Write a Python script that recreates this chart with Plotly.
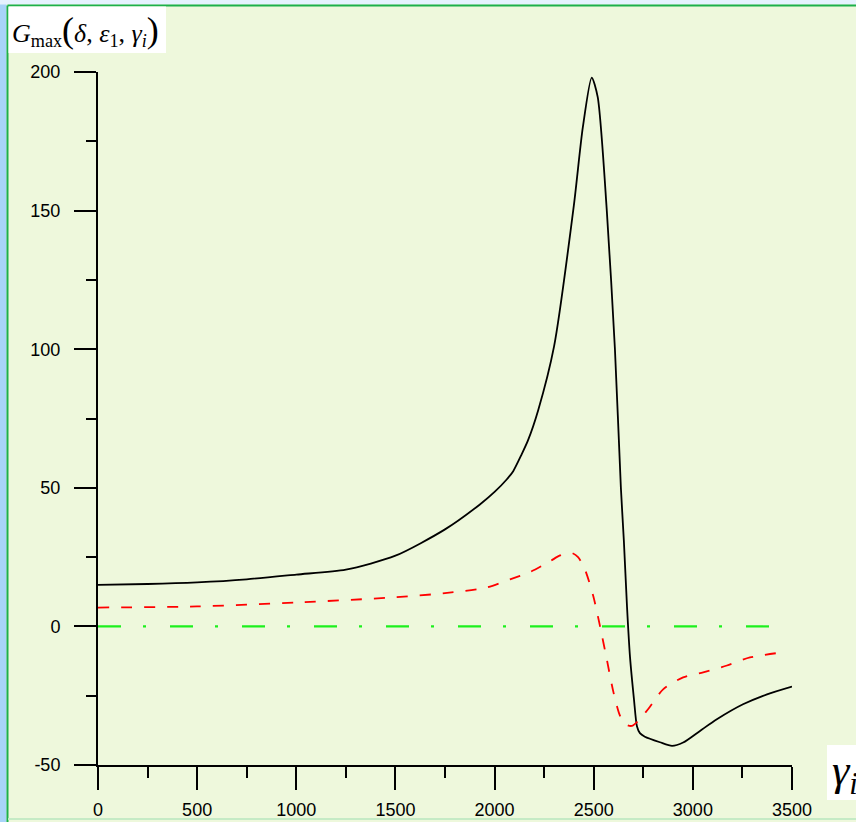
import plotly.graph_objects as go

# ---- data ----
black_x = [0, 250, 500, 750, 1000, 1250, 1500, 1750, 1926, 2000, 2061, 2094, 2136, 2168,
           2220, 2300, 2400, 2445, 2490, 2520, 2566, 2607, 2637, 2652, 2668, 2683, 2703,
           2718, 2733, 2758, 2834, 2895, 2951, 3036, 3121, 3253, 3374, 3500]
black_y = [15, 15.3, 15.9, 17, 18.7, 20.5, 25.5, 35, 44, 48.5, 53, 56, 62, 67,
           78, 101, 152, 180, 198, 191, 150, 100, 50, 31, 7, -11, -26.3,
           -36, -38.5, -39.8, -41.8, -43.1, -41.9, -37.7, -33.5, -28.1, -24.5, -21.7]

red_x = [0, 500, 1000, 1500, 1750, 1960, 2078, 2179, 2280, 2330, 2389, 2421, 2456, 2498,
         2532, 2566, 2600, 2633, 2665, 2692, 2724, 2774, 2850, 2951, 3052, 3172, 3288, 3448]
red_y = [6.8, 7.2, 8.6, 10.5, 12, 14, 17, 19.6, 23.5, 25.6, 26.5, 25, 20.5, 10.9,
         0, -11.9, -23.9, -32.3, -35.5, -35.9, -34.1, -29.9, -22.7, -18.4, -16.6, -14.1, -11.2, -9.4]

green_x = [0, 3430]
green_y = [0, 0]

x_ticks = [0, 500, 1000, 1500, 2000, 2500, 3000, 3500]
y_ticks = [-50, 0, 50, 100, 150, 200]

# ---- layout geometry (pixels) ----
W, H = 856, 822
L, R, T, B = 98, 792, 72, 765


def px(x):
    return (x - L) / (R - L)


def py(y):
    return (B - y) / (B - T)


fig = go.Figure()
fig.add_trace(go.Scatter(x=black_x, y=black_y, mode="lines",
                         line=dict(color="black", width=1.8, shape="spline", smoothing=0.7),
                         showlegend=False, hoverinfo="skip"))
fig.add_trace(go.Scatter(x=red_x, y=red_y, mode="lines",
                         line=dict(color="#FF0000", width=1.8, dash="11px,12px",
                                   shape="spline", smoothing=0.7),
                         showlegend=False, hoverinfo="skip"))
fig.add_trace(go.Scatter(x=green_x, y=green_y, mode="lines",
                         line=dict(color="#1CF01C", width=2.2, dash="23px,22px,3px,24px"),
                         showlegend=False, hoverinfo="skip"))

bg = "#EEF8DC"
shapes = [
    # left blue strip
    dict(type="rect", xref="paper", yref="paper", x0=px(0), x1=px(6.5), y0=py(H), y1=py(0),
         fillcolor="#A8D4F8", line_width=0, layer="below"),
    # top strip
    dict(type="rect", xref="paper", yref="paper", x0=px(0), x1=px(W), y0=py(4.5), y1=py(0),
         fillcolor="#E6F2FE", line_width=0, layer="below"),
    # green border lines
    dict(type="line", xref="paper", yref="paper", x0=px(7.5), x1=px(7.5), y0=py(H), y1=py(5.5),
         line=dict(color="#1DB04B", width=2), layer="below"),
    dict(type="line", xref="paper", yref="paper", x0=px(7.5), x1=px(W), y0=py(5.5), y1=py(5.5),
         line=dict(color="#1DB04B", width=2), layer="below"),
    dict(type="line", xref="paper", yref="paper", x0=px(8), x1=px(W), y0=py(819), y1=py(819),
         line=dict(color="#C5EBC5", width=2), layer="below"),
    # white label boxes
    dict(type="rect", xref="paper", yref="paper", x0=px(8.5), x1=px(166), y0=py(53), y1=py(6.5),
         fillcolor="white", line_width=0, layer="below"),
    dict(type="rect", xref="paper", yref="paper", x0=px(827), x1=px(W), y0=py(800), y1=py(745),
         fillcolor="white", line_width=0, layer="below"),
]

annotations = [
    dict(xref="paper", yref="paper", x=px(10), y=py(31), xanchor="left", yanchor="middle",
         showarrow=False,
         text=("<i>G</i><sub>max</sub><span style='font-size:36px'>(</span>"
               "<i>δ</i>, <i>ε</i><sub>1</sub>, <i>γ</i><sub><i>i</i></sub>"
               "<span style='font-size:36px'>)</span>"),
         font=dict(family="Liberation Serif, Times New Roman, serif", size=26, color="black")),
    dict(xref="paper", yref="paper", x=px(830), y=py(774), xanchor="left", yanchor="middle",
         showarrow=False,
         text="<i>γ</i><sub><i>i</i></sub>",
         font=dict(family="Liberation Serif, Times New Roman, serif", size=44, color="black")),
]

fig.update_layout(
    width=W, height=H,
    margin=dict(l=L, r=W - R, t=T, b=H - B, pad=0, autoexpand=False),
    paper_bgcolor=bg, plot_bgcolor=bg,
    font=dict(family="Liberation Sans, Arial, sans-serif", size=18, color="black"),
    shapes=shapes, annotations=annotations,
    xaxis=dict(range=[0, 3500], tickvals=x_ticks, ticktext=[str(v) for v in x_ticks],
               automargin=False,
               showgrid=False, zeroline=False, showline=True, linecolor="black", linewidth=2,
               ticks="outside", ticklen=23, tickwidth=2, tickcolor="black",
               ticklabelstandoff=4,
               minor=dict(dtick=250, tick0=0, ticks="outside", ticklen=11, tickwidth=2,
                          tickcolor="black", showgrid=False)),
    yaxis=dict(range=[-50, 200], tickvals=y_ticks, ticktext=[str(v) for v in y_ticks],
               automargin=False,
               showgrid=False, zeroline=False, showline=True, linecolor="black", linewidth=2,
               ticks="outside", ticklen=22, tickwidth=2, tickcolor="black",
               ticklabelstandoff=10,
               minor=dict(dtick=25, tick0=0, ticks="outside", ticklen=10, tickwidth=2,
                          tickcolor="black", showgrid=False)),
)

fig.write_html("out.html")
